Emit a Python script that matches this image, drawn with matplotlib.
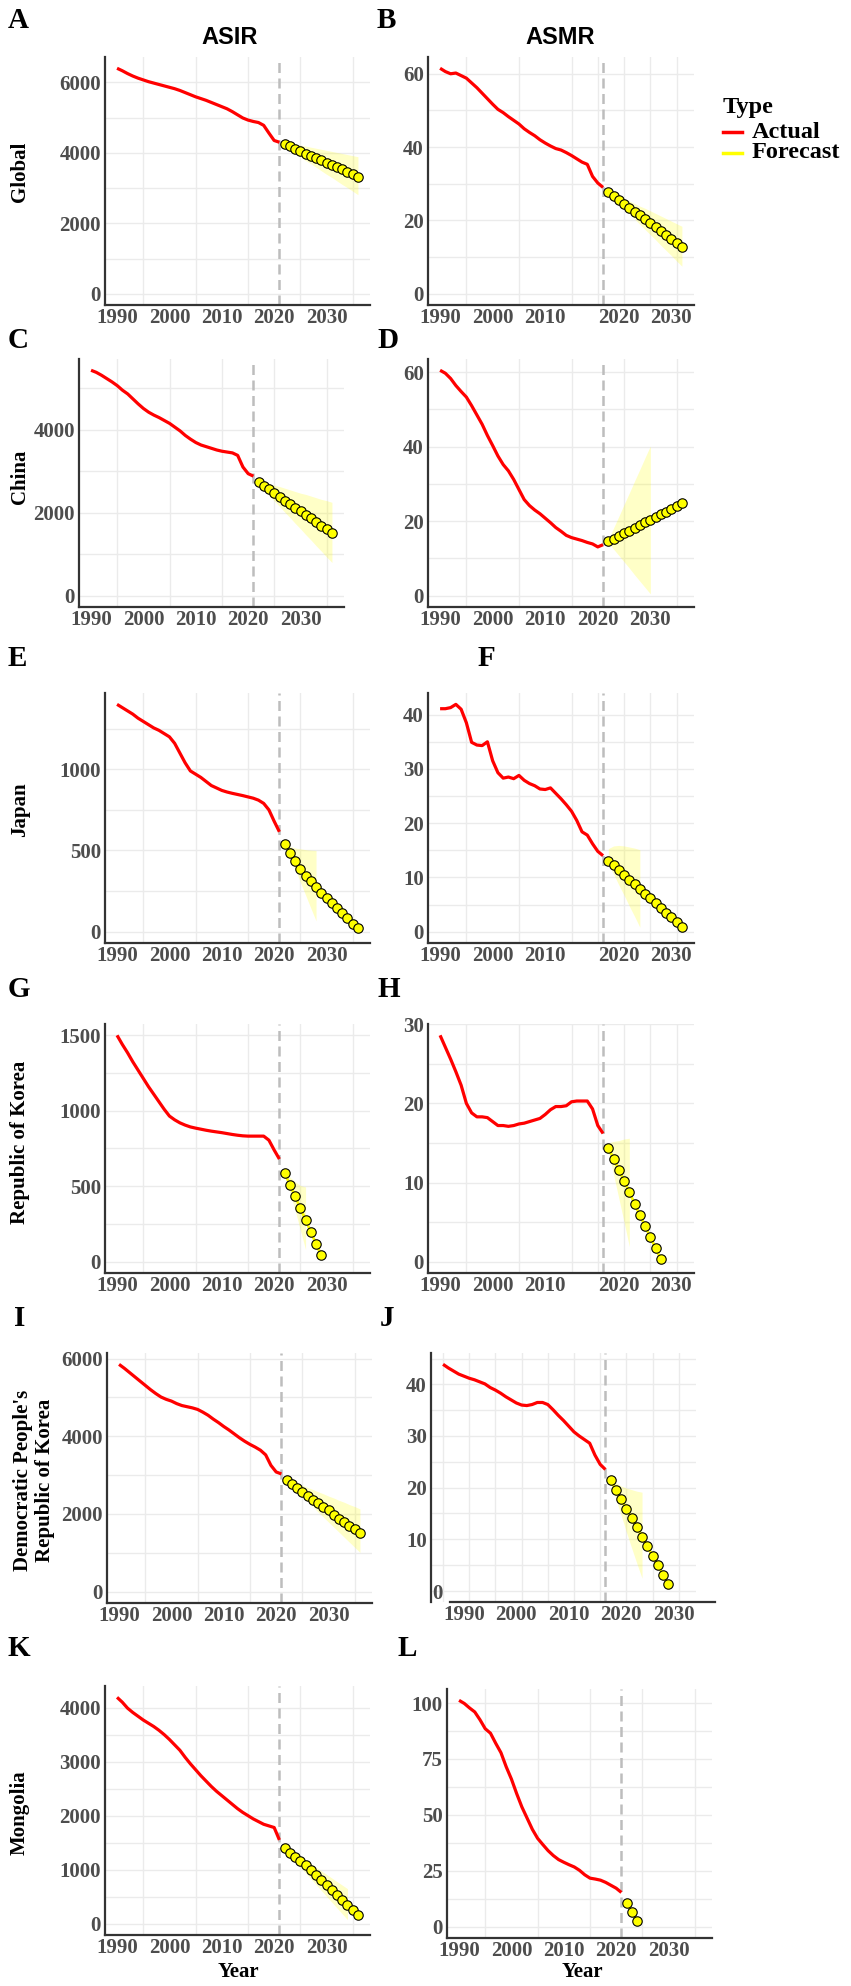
import matplotlib
matplotlib.use("Agg")
import matplotlib.pyplot as plt
from matplotlib.lines import Line2D
from matplotlib.ticker import MultipleLocator, AutoMinorLocator, FixedLocator

W, H = 851, 1986

years = list(range(1990, 2022))
fc_start = 2022

# ---- actual values 1990-2021 ----
global_asir = [6400, 6330, 6250, 6180, 6120, 6070, 6020, 5980, 5940, 5900, 5860, 5820, 5770, 5710,
               5650, 5590, 5540, 5490, 5430, 5370, 5310, 5250, 5170, 5080, 4990, 4930, 4890, 4860,
               4780, 4560, 4350, 4300]
global_asmr = [61.5, 60.6, 60.0, 60.2, 59.5, 58.8, 57.5, 56.2, 54.7, 53.2, 51.7, 50.3, 49.4, 48.3,
               47.3, 46.3, 45.0, 44.0, 43.1, 42.0, 41.1, 40.3, 39.6, 39.2, 38.5, 37.7, 36.8, 35.9,
               35.3, 32.0, 30.2, 29.0]
china_asir = [5430, 5380, 5310, 5230, 5150, 5060, 4950, 4860, 4740, 4620, 4510, 4420, 4350, 4290,
              4220, 4150, 4060, 3970, 3860, 3770, 3690, 3630, 3590, 3550, 3510, 3480, 3460, 3440,
              3380, 3100, 2940, 2880]
china_asmr = [60.5, 59.7, 58.3, 56.4, 54.8, 53.3, 51.0, 48.5, 46.0, 43.0, 40.3, 37.5, 35.2, 33.5,
              31.2, 28.5, 25.8, 24.2, 23.0, 22.0, 20.8, 19.6, 18.3, 17.3, 16.2, 15.6, 15.2, 14.8,
              14.3, 13.9, 13.1, 13.7]
japan_asir = [1400, 1380, 1360, 1340, 1315, 1295, 1275, 1255, 1240, 1220, 1200, 1160, 1100, 1040,
              990, 970, 950, 925, 900, 885, 870, 860, 852, 845, 838, 830, 822, 810, 790, 750, 680, 615]
japan_asmr = [41.1, 41.1, 41.3, 41.9, 41.0, 38.5, 34.9, 34.4, 34.3, 35.0, 31.5, 29.3, 28.3, 28.5,
              28.2, 28.8, 27.9, 27.3, 26.9, 26.3, 26.2, 26.5, 25.5, 24.5, 23.4, 22.2, 20.5, 18.4,
              17.8, 16.2, 14.8, 14.0]
korea_asir = [1500, 1440, 1385, 1325, 1270, 1215, 1160, 1110, 1060, 1010, 965, 940, 920, 905, 893,
              885, 878, 871, 865, 860, 855, 849, 843, 838, 834, 832, 832, 832, 832, 805, 740, 680]
korea_asmr = [28.6, 27.1, 25.6, 24.0, 22.3, 20.0, 18.8, 18.3, 18.3, 18.2, 17.7, 17.2, 17.2, 17.1,
              17.2, 17.4, 17.5, 17.7, 17.9, 18.1, 18.6, 19.2, 19.6, 19.6, 19.7, 20.2, 20.3, 20.3,
              20.3, 19.3, 17.2, 16.2]
dprk_asir = [5850, 5750, 5640, 5530, 5420, 5310, 5200, 5100, 5010, 4950, 4905, 4840, 4790, 4760,
             4730, 4690, 4620, 4540, 4440, 4350, 4250, 4160, 4060, 3960, 3870, 3790, 3720, 3640,
             3520, 3250, 3080, 3030]
dprk_asmr = [43.9, 43.2, 42.6, 42.0, 41.6, 41.2, 40.9, 40.5, 40.1, 39.4, 38.9, 38.3, 37.6, 37.0,
             36.4, 36.0, 35.9, 36.1, 36.5, 36.5, 36.1, 35.1, 34.0, 33.0, 31.9, 30.8, 30.0, 29.3,
             28.6, 26.3, 24.5, 23.5]
mongolia_asir = [4190, 4100, 3990, 3910, 3840, 3770, 3710, 3650, 3580, 3500, 3410, 3310, 3210, 3080,
                 2960, 2850, 2740, 2640, 2540, 2450, 2370, 2290, 2210, 2130, 2060, 2000, 1940, 1890,
                 1840, 1810, 1780, 1550]
mongolia_asmr = [101.2, 99.8, 97.8, 96.0, 92.5, 88.5, 86.5, 82.0, 77.8, 71.5, 66.0, 59.5, 53.5, 48.5,
                 43.5, 39.5, 36.7, 34.0, 31.8, 30.0, 28.8, 27.7, 26.7, 25.2, 23.2, 21.7, 21.3, 20.8,
                 19.8, 18.5, 17.2, 15.3]

# ---- forecasts (from 2022) and uncertainty bands ----
global_asir_fc = [4250, 4180, 4110, 4050, 3980, 3920, 3850, 3790, 3720, 3660, 3590, 3530, 3460, 3390, 3310]
global_asir_hi = [4310, 4280, 4250, 4220, 4190, 4160, 4130, 4100, 4070, 4040, 4010, 3980, 3950, 3920, 3890]
global_asir_lo = [4170, 4070, 3980, 3880, 3780, 3690, 3590, 3490, 3390, 3300, 3200, 3100, 3010, 2910, 2810]

global_asmr_fc = [27.8, 26.7, 25.6, 24.6, 23.5, 22.4, 21.4, 20.3, 19.2, 18.2, 17.1, 16.0, 15.0, 13.9, 12.8]
global_asmr_hi = [28.1, 27.4, 26.7, 26.0, 25.3, 24.6, 23.9, 23.3, 22.6, 21.9, 21.2, 20.5, 19.8, 19.1, 18.4]
global_asmr_lo = [27.5, 26.1, 24.6, 23.2, 21.8, 20.4, 18.9, 17.5, 16.1, 14.7, 13.2, 11.8, 10.4, 8.9, 7.5]

china_asir_fc = [2730, 2640, 2560, 2470, 2380, 2290, 2210, 2120, 2040, 1950, 1860, 1780, 1690, 1600, 1510]
china_asir_hi = [2780, 2740, 2700, 2660, 2630, 2590, 2550, 2510, 2470, 2440, 2400, 2360, 2320, 2290, 2250]
china_asir_lo = [2690, 2550, 2420, 2280, 2150, 2010, 1880, 1740, 1610, 1470, 1340, 1200, 1070, 930, 800]

china_asmr_fc = [14.6, 15.3, 16.1, 16.8, 17.5, 18.2, 19.0, 19.7, 20.4, 21.2, 21.9, 22.6, 23.3, 24.1, 24.8]
china_asmr_hi = [15.0, 18.2, 21.3, 24.5, 27.6, 30.8, 33.9, 37.1, 40.2]
china_asmr_lo = [14.2, 12.5, 10.8, 9.1, 7.4, 5.6, 3.9, 2.2, 0.5]

japan_asir_fc = [541, 486, 434, 386, 345, 310, 273, 238, 205, 174, 143, 112, 81, 50, 21]
japan_asir_hi = [545, 525, 515, 510, 505, 502, 500]
japan_asir_lo = [535, 460, 385, 305, 225, 145, 66]

japan_asmr_fc = [13.1, 12.2, 11.4, 10.5, 9.6, 8.8, 7.9, 7.0, 6.2, 5.3, 4.4, 3.5, 2.7, 1.8, 0.9]
japan_asmr_hi = [15.3, 15.8, 15.9, 15.8, 15.6, 15.4, 15.1]
japan_asmr_lo = [12.5, 10.6, 8.6, 6.7, 4.7, 2.8, 0.8]

korea_asir_fc = [589, 511, 434, 354, 277, 197, 119, 42]
korea_asir_hi = [600, 560, 530, 505, 495]
korea_asir_lo = [580, 460, 340, 210, 80]

korea_asmr_fc = [14.4, 13.0, 11.6, 10.2, 8.8, 7.3, 5.9, 4.5, 3.1, 1.7, 0.3]
korea_asmr_hi = [15.0, 15.2, 15.3, 15.5, 15.6]
korea_asmr_lo = [14.0, 11.0, 8.0, 5.0, 1.9]

dprk_asir_fc = [2870, 2770, 2670, 2570, 2470, 2370, 2280, 2190, 2090, 1980, 1880, 1790, 1700, 1600, 1520]
dprk_asir_hi = [2900, 2850, 2790, 2740, 2680, 2630, 2570, 2520, 2460, 2410, 2350, 2300, 2240, 2190, 2130]
dprk_asir_lo = [2840, 2710, 2580, 2450, 2320, 2190, 2050, 1920, 1790, 1660, 1530, 1400, 1270, 1140, 1010]

dprk_asmr_fc = [21.5, 19.6, 17.8, 15.9, 14.1, 12.3, 10.5, 8.6, 6.8, 5.0, 3.1, 1.2]
dprk_asmr_hi = [21.9, 21.0, 20.3, 19.9, 19.6, 19.3, 19.1]
dprk_asmr_lo = [21.2, 17.8, 14.6, 11.4, 8.3, 5.3, 2.4]

mongolia_asir_fc = [1403, 1317, 1236, 1156, 1082, 989, 909, 816, 711, 631, 526, 433, 352, 260, 167]
mongolia_asir_hi = [1440, 1374, 1308, 1242, 1176, 1110, 1044, 978, 912, 846, 780, 714, 648]
mongolia_asir_lo = [1370, 1262, 1154, 1046, 938, 830, 722, 614, 506, 398, 290, 182, 74]

mongolia_asmr_fc = [10.5, 6.6, 2.7]
mongolia_asmr_hi = []
mongolia_asmr_lo = []

regions = ["Global", "China", "Japan", "Republic of Korea",
           "Democratic People's\nRepublic of Korea", "Mongolia"]
year_labels = ["1990", "2000", "2010", "2020", "2030"]
cutoff_year = 2021

# panel -> data
panels = {
    "A": (global_asir, global_asir_fc, global_asir_hi, global_asir_lo),
    "B": (global_asmr, global_asmr_fc, global_asmr_hi, global_asmr_lo),
    "C": (china_asir, china_asir_fc, china_asir_hi, china_asir_lo),
    "D": (china_asmr, china_asmr_fc, china_asmr_hi, china_asmr_lo),
    "E": (japan_asir, japan_asir_fc, japan_asir_hi, japan_asir_lo),
    "F": (japan_asmr, japan_asmr_fc, japan_asmr_hi, japan_asmr_lo),
    "G": (korea_asir, korea_asir_fc, korea_asir_hi, korea_asir_lo),
    "H": (korea_asmr, korea_asmr_fc, korea_asmr_hi, korea_asmr_lo),
    "I": (dprk_asir, dprk_asir_fc, dprk_asir_hi, dprk_asir_lo),
    "J": (dprk_asmr, dprk_asmr_fc, dprk_asmr_hi, dprk_asmr_lo),
    "K": (mongolia_asir, mongolia_asir_fc, mongolia_asir_hi, mongolia_asir_lo),
    "L": (mongolia_asmr, mongolia_asmr_fc, mongolia_asmr_hi, mongolia_asmr_lo),
}

# layout: axes box in pixels (left, top, right, bottom), y tick step
layout = {
    "A": ((105, 57, 370, 305), 2000), "B": ((428, 57, 694, 305), 20),
    "C": ((79, 359, 344, 607), 2000), "D": ((428, 359, 694, 607), 20),
    "E": ((105, 693, 370, 943), 500), "F": ((428, 693, 694, 943), 10),
    "G": ((105, 1024, 370, 1273), 500), "H": ((428, 1024, 694, 1273), 10),
    "I": ((107, 1353, 372, 1603), 2000), "J": ((431, 1353, 696, 1602), 10),
    "K": ((105, 1686, 370, 1935), 1000), "L": ((447, 1689, 712, 1938), 25),
}
# year label positions as they sit in the source figure
label_pos_default = [1990, 2000, 2010, 2020, 2030]
label_pos = {"B": [1990, 2000, 2010, 2024, 2034], "F": [1990, 2000, 2010, 2024, 2034],
             "H": [1990, 2000, 2010, 2024, 2034], "J": [1994, 2004, 2014, 2024, 2034]}
letter_pos = {"A": (8, 20), "B": (377, 20), "C": (8, 340), "D": (377, 340),
              "E": (8, 658), "F": (478, 658), "G": (8, 990), "H": (377, 990),
              "I": (14, 1318), "J": (380, 1318), "K": (8, 1648), "L": (397, 1648)}
region_pos = [(20, 172), (20, 477), (20, 810), (20, 1142), (34, 1480), (20, 1813)]

SERIF = "Liberation Serif"
SANS = "Liberation Sans"
GRID = "#EBEBEB"

fig = plt.figure(figsize=(W / 100, H / 100), dpi=100)


def fx(x):
    return x / W


def fy(y):
    return 1 - y / H


for key, (actual, fc, hi, lo) in panels.items():
    (l, t, r, b), ystep = layout[key]
    ax = fig.add_axes([l / W, 1 - b / H, (r - l) / W, (b - t) / H])
    fc_years = list(range(fc_start, fc_start + len(fc)))
    band_years = list(range(fc_start, fc_start + len(hi)))

    top = max(actual + fc + hi)
    ax.set_ylim(-0.05 * top, 1.05 * top)
    ax.set_xlim(1987.7, 2038.3)

    ax.set_axisbelow(True)
    ax.xaxis.set_minor_locator(MultipleLocator(5))
    ax.xaxis.set_major_locator(FixedLocator(label_pos.get(key, label_pos_default)))
    ax.set_xticklabels(year_labels)
    ax.yaxis.set_major_locator(MultipleLocator(ystep))
    ax.yaxis.set_minor_locator(AutoMinorLocator(2))
    ax.grid(True, which="minor", axis="x", color=GRID, lw=1.0)
    ax.grid(False, which="major", axis="x")
    ax.grid(True, which="both", axis="y", color=GRID, lw=1.0)

    ax.tick_params(which="both", length=0)
    ax.tick_params(axis="x", pad=2)
    ax.tick_params(axis="y", pad=3)
    for lab in ax.get_xticklabels() + ax.get_yticklabels():
        lab.set_fontfamily(SERIF)
        lab.set_fontweight("bold")
        lab.set_fontsize(15)
        lab.set_color("#4D4D4D")

    for s in ["top", "right"]:
        ax.spines[s].set_visible(False)
    for s in ["left", "bottom"]:
        ax.spines[s].set_color("#333333")
        ax.spines[s].set_linewidth(1.6)

    if hi:
        ax.fill_between(band_years, lo, hi, color="yellow", alpha=0.22, lw=0, zorder=2)
    ax.axvline(cutoff_year, color="#BDBDBD", lw=1.8, ls=(0, (4, 2.2)), zorder=2.5)
    ax.plot(years, actual, color="red", lw=2.3, zorder=3, solid_capstyle="butt")
    ax.plot(fc_years, fc, color="yellow", lw=2.0, zorder=4)
    ax.plot(fc_years, fc, ls="none", marker="o", ms=6.8, mfc="yellow", mec="black",
            mew=0.8, zorder=5)

    if key == "J":
        ax.spines["bottom"].set_bounds(1991.4, 2041.9)
        ax.yaxis.set_major_locator(FixedLocator([10, 20, 30, 40]))
        for lab in ax.get_yticklabels():
            lab.set_fontfamily(SERIF)
            lab.set_fontweight("bold")
            lab.set_fontsize(15)
            lab.set_color("#4D4D4D")
        ax.text(1987.9, -0.6, "0", fontfamily=SERIF, fontweight="bold", fontsize=15,
                color="#4D4D4D", ha="left", va="center")

    lx, ly = letter_pos[key]
    fig.text(fx(lx), fy(ly), key, fontfamily=SERIF, fontweight="bold", fontsize=21,
             ha="left", va="center")

for name, (x, y) in zip(regions, region_pos):
    fig.text(fx(x), fy(y), name, rotation=90, fontfamily=SERIF, fontweight="bold",
             fontsize=15, ha="center", va="center", multialignment="center",
             linespacing=1.1)

fig.text(fx(230), fy(37), "ASIR", fontfamily=SANS, fontweight="bold", fontsize=17,
         ha="center", va="center")
fig.text(fx(560), fy(37), "ASMR", fontfamily=SANS, fontweight="bold", fontsize=17,
         ha="center", va="center")
fig.text(fx(238), fy(1972), "Year", fontfamily=SERIF, fontweight="bold", fontsize=15,
         ha="center", va="center")
fig.text(fx(582), fy(1972), "Year", fontfamily=SERIF, fontweight="bold", fontsize=15,
         ha="center", va="center")

# legend
fig.text(fx(723), fy(108), "Type", fontfamily=SERIF, fontweight="bold", fontsize=17.5,
         ha="left", va="center")
for yy, col, lab in [(132, "red", "Actual"), (153, "yellow", "Forecast")]:
    fig.add_artist(Line2D([fx(723), fx(742)], [fy(yy), fy(yy)], color=col, lw=2.5))
    fig.text(fx(752), fy(yy), lab, fontfamily=SERIF, fontweight="bold", fontsize=17.5,
             ha="left", va="center")

fig.savefig("out.png", dpi=100)
